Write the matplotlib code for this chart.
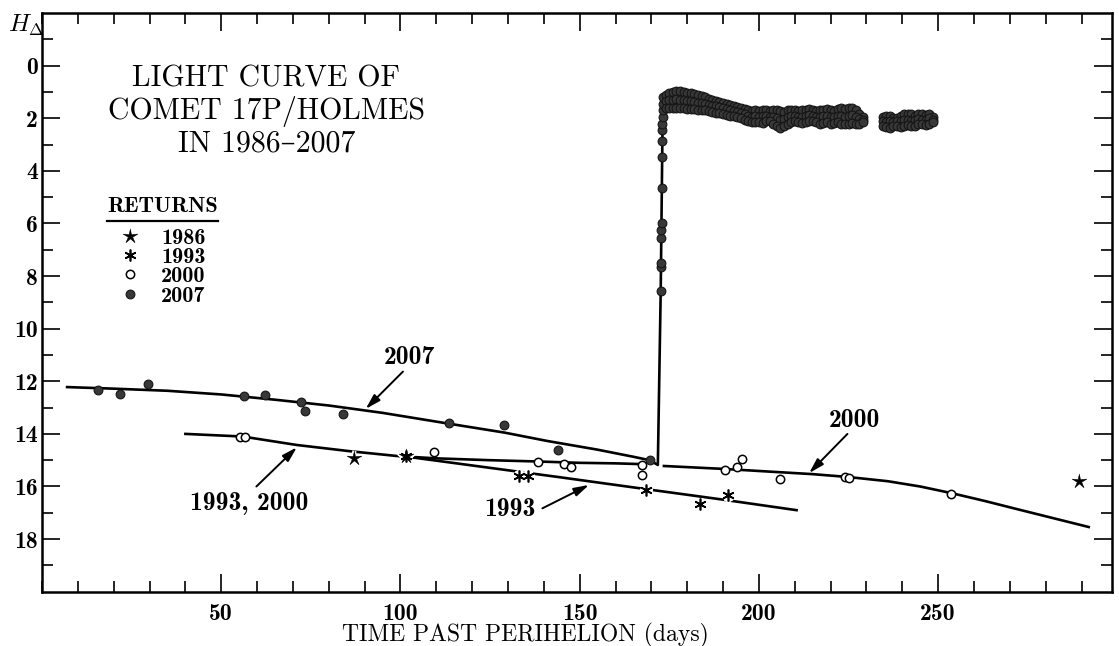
import numpy as np
import matplotlib
matplotlib.use('Agg')
import matplotlib.pyplot as plt
from matplotlib.ticker import MultipleLocator, FixedLocator

# ---- observations (days past perihelion, H_delta) ----
obs1986_day = [86.9, 101.6, 289.2]
obs1986_mag = [14.92, 14.85, 15.80]

obs1993_day = [101.6, 133.0, 135.7, 168.6, 183.5, 191.5]
obs1993_mag = [14.85, 15.60, 15.60, 16.15, 16.66, 16.31]

obs2000_day = [55.2, 56.5, 109.3, 138.5, 145.5, 147.7, 167.5, 167.5, 190.4, 194.0,
               195.2, 205.8, 223.9, 225.0, 253.6]
obs2000_mag = [14.12, 14.12, 14.68, 15.05, 15.15, 15.24, 15.20, 15.56, 15.36, 15.27,
               14.95, 15.72, 15.64, 15.66, 16.30]

obs2007_day = [15.7, 21.7, 29.6, 56.3, 62.3, 72.3, 73.5, 84.1, 113.6, 129.0, 143.9, 169.5]
obs2007_mag = [12.34, 12.47, 12.10, 12.57, 12.51, 12.79, 13.12, 13.25, 13.57, 13.68, 14.60, 15.00]

# 2007 outburst: the rise and the bright plateau
rise_day = [172.6, 172.7, 172.7, 172.8, 172.8, 172.85, 172.95, 173.0, 173.05, 173.1,
            173.1, 173.15, 173.2, 173.25, 173.3]
rise_mag = [8.56, 7.64, 7.51, 6.56, 6.24, 5.97, 4.66, 3.46, 2.86, 2.44,
            2.20, 1.95, 1.70, 1.45, 1.20]

band_day = [174, 175, 176, 177, 178, 179, 180, 181, 182, 183, 184, 185, 186, 187,
            188, 189, 190, 191, 192, 193, 194, 195, 196, 197, 198, 199, 200, 201,
            202, 203, 204, 205, 206, 207, 208, 209, 210, 211, 212, 213, 214, 215,
            216, 217, 218, 219, 220, 221, 222, 223, 224, 225, 226, 227, 228, 229]
band_top = [1.10, 1.05, 1.00, 0.98, 0.97, 1.00, 1.02, 1.05, 1.08, 1.10, 1.15, 1.20, 1.25, 1.30,
            1.33, 1.38, 1.42, 1.45, 1.50, 1.52, 1.56, 1.62, 1.66, 1.70, 1.72, 1.70, 1.72, 1.68,
            1.70, 1.74, 1.70, 1.68, 1.72, 1.75, 1.70, 1.68, 1.70, 1.73, 1.70, 1.68, 1.66, 1.70,
            1.72, 1.70, 1.68, 1.65, 1.68, 1.72, 1.66, 1.62, 1.65, 1.60, 1.62, 1.70, 1.85, 1.95]
band_mid = [1.35, 1.32, 1.30, 1.28, 1.30, 1.30, 1.33, 1.35, 1.38, 1.40, 1.42, 1.45, 1.48, 1.52,
            1.55, 1.58, 1.62, 1.66, 1.70, 1.72, 1.75, 1.80, 1.85, 1.90, 1.95, 1.92, 1.95, 1.92,
            1.90, 1.95, 1.95, 2.00, 2.05, 2.02, 1.95, 1.92, 1.90, 1.95, 1.94, 1.90, 1.88, 1.92,
            1.95, 1.94, 1.92, 1.90, 1.94, 1.95, 1.90, 1.92, 1.94, 1.90, 1.88, 1.95, 2.02, 2.05]
band_bot = [1.60, 1.62, 1.60, 1.60, 1.62, 1.62, 1.65, 1.65, 1.66, 1.68, 1.70, 1.70, 1.72, 1.75,
            1.78, 1.80, 1.85, 1.88, 1.90, 1.92, 1.95, 2.00, 2.05, 2.12, 2.15, 2.15, 2.15, 2.18,
            2.12, 2.10, 2.20, 2.30, 2.36, 2.30, 2.20, 2.15, 2.12, 2.15, 2.18, 2.15, 2.10, 2.12,
            2.15, 2.20, 2.18, 2.15, 2.20, 2.18, 2.15, 2.20, 2.22, 2.20, 2.18, 2.20, 2.20, 2.15]

late_day = [234.5, 235.5, 236.5, 237.5, 238.5, 239.5, 240.5, 241.5, 242.5, 243.5,
            244.5, 245.5, 246.5, 247.5, 248.5]
late_top = [1.95, 1.90, 1.92, 1.98, 2.00, 1.90, 1.85, 1.82, 1.85, 1.90, 1.85, 1.82, 1.88, 1.85, 1.95]
late_mid = [2.10, 2.15, 2.10, 2.15, 2.12, 2.10, 2.08, 2.05, 2.10, 2.05, 2.02, 2.05, 2.05, 2.00, 2.05]
late_bot = [2.30, 2.32, 2.35, 2.30, 2.28, 2.32, 2.30, 2.25, 2.30, 2.28, 2.22, 2.20, 2.25, 2.20, 2.15]

# ---- hand-drawn light curves ----
fit2007_day = [7, 20, 35, 50, 65, 80, 95, 113, 129, 141, 155, 165, 169.5, 171.8, 172.6, 173.1, 173.3]
fit2007_mag = [12.22, 12.28, 12.36, 12.50, 12.70, 12.92, 13.20, 13.60, 13.95, 14.27, 14.60, 14.87,
               15.00, 15.18, 8.6, 2.4, 1.4]
fit9300_day = [40, 56, 71, 86, 99, 102.5]
fit9300_mag = [14.00, 14.10, 14.42, 14.66, 14.84, 14.87]
fit2000a_day = [102.5, 110, 125, 138.5, 150, 160, 167.5]
fit2000a_mag = [14.87, 14.93, 15.00, 15.05, 15.10, 15.12, 15.15]
fit2000b_day = [173.5, 190, 205, 215, 225, 236, 245, 254, 263, 272, 282, 292]
fit2000b_mag = [15.22, 15.33, 15.45, 15.53, 15.64, 15.80, 16.00, 16.26, 16.55, 16.86, 17.20, 17.54]
fit1993_day = [102.5, 120, 143.5, 168.5, 190, 210.5]
fit1993_mag = [14.88, 15.20, 15.63, 16.10, 16.50, 16.90]

year_labels = ['1986', '1993', '2000', '2007']

plt.rcParams['font.family'] = ['cmb10', 'DejaVu Serif']
plt.rcParams['mathtext.fontset'] = 'cm'
roman = ['cmr10', 'DejaVu Serif']

W, H = 1119, 646
AX_L, AX_R, AX_T, AX_B = 42, 1112, 13.1, 591.7
fig = plt.figure(figsize=(W / 100, H / 100), dpi=100)
ax = fig.add_axes([AX_L / W, (H - AX_B) / H, (AX_R - AX_L) / W, (AX_B - AX_T) / H])


def ax_xy(px, py):
    """ pixel position in the reference -> axes fraction """
    return (px - AX_L) / (AX_R - AX_L), (AX_B - py) / (AX_B - AX_T)


# curves
for d, m in [(fit2007_day, fit2007_mag), (fit9300_day, fit9300_mag),
             (fit2000a_day, fit2000a_mag), (fit2000b_day, fit2000b_mag),
             (fit1993_day, fit1993_mag)]:
    ax.plot(d, m, color='k', lw=1.9, zorder=2)

# markers
ang = np.deg2rad(90 + 36 * np.arange(10))
rad = np.tile([1.0, 0.3], 5)
star_verts = np.column_stack([rad * np.cos(ang), rad * np.sin(ang)])

dot = dict(ls='none', marker='o', ms=6.3, mfc='#383838', mec='#151515', mew=0.8, zorder=4)
burst_day = np.concatenate([rise_day, band_day, band_day, band_day, late_day, late_day, late_day])
burst_mag = np.concatenate([rise_mag, band_top, band_mid, band_bot, late_top, late_mid, late_bot])
ax.plot(burst_day, burst_mag, **dot)
h2007, = ax.plot(obs2007_day, obs2007_mag, **dot)

h2000, = ax.plot(obs2000_day, obs2000_mag, ls='none', marker='o', ms=6.0, mfc='white',
                 mec='k', mew=1.1, zorder=4)

ax.plot(obs1993_day, obs1993_mag, ls='none', marker=(6, 2, 0), ms=8.5, mew=4, mec='white', zorder=3)
h1993, = ax.plot(obs1993_day, obs1993_mag, ls='none', marker=(6, 2, 0), ms=8.5, mew=1.2,
                 mec='k', zorder=4)

ax.plot(obs1986_day, obs1986_mag, ls='none', marker=star_verts, ms=11, mfc='white', mec='white',
        mew=3, zorder=3)
h1986, = ax.plot(obs1986_day, obs1986_mag, ls='none', marker=star_verts, ms=11, mfc='k', mec='k',
                 mew=0.4, zorder=4)

# curve labels with arrows
arrow = dict(arrowstyle='-|>,head_length=0.45,head_width=0.13', lw=1.4, color='k',
             shrinkA=0, shrinkB=0, mutation_scale=20)
for txt, tpos, tail, head in [('2007', (102.5, 11.1), (100.7, 11.63), (90.3, 13.05)),
                              ('1993, 2000', (57.9, 16.64), (59.8, 16.0), (71.1, 14.51)),
                              ('1993', (130.4, 16.89), (139.6, 16.83), (152.6, 15.94)),
                              ('2000', (226.6, 13.5), (224.7, 14.0), (214.0, 15.49))]:
    ax.annotate('', xy=head, xytext=tail, arrowprops=arrow)
    ax.text(tpos[0], tpos[1], txt, ha='center', va='center', fontsize=18.5)

# title
ax.text(*ax_xy(266.5, 111), 'LIGHT CURVE OF\nCOMET 17P/HOLMES\nIN 1986\u20132007',
        transform=ax.transAxes, ha='center', va='center', multialignment='center',
        family=roman, fontsize=21.5, linespacing=1.15)

# axes
ax.set_xlim(0, 298.5)
ax.set_ylim(20, -2)
ax.xaxis.set_major_locator(FixedLocator([50, 100, 150, 200, 250]))
ax.xaxis.set_minor_locator(MultipleLocator(10))
ax.yaxis.set_major_locator(FixedLocator(list(range(0, 19, 2))))
ax.yaxis.set_minor_locator(FixedLocator(list(range(-1, 20, 2))))
ax.tick_params(which='both', direction='in', top=True, right=True, width=1.2, colors='k')
ax.tick_params(which='major', length=13, labelsize=17)
ax.tick_params(which='minor', length=8)
ax.tick_params(axis='x', which='major', pad=8)
ax.tick_params(axis='y', which='major', pad=3)
for s in ax.spines.values():
    s.set_linewidth(1.8)

ax.set_xlabel('TIME PAST PERIHELION (days)', family=roman, fontsize=17)
ax.xaxis.set_label_coords(*ax_xy(525, 623))
ax.set_ylabel(r'$H_{\Delta}$', rotation=0, fontsize=18, ha='center', va='center')
ax.yaxis.set_label_coords(*ax_xy(26, 25))

# legend: header, rule and the four returns
ax.text(*ax_xy(162.5, 207), 'RETURNS', transform=ax.transAxes, ha='center', va='center',
        fontsize=16)
ax.plot(*zip(ax_xy(107, 220.5), ax_xy(218, 220.5)), transform=ax.transAxes, color='k',
        lw=1.6, clip_on=False)
ax.legend([h1986, h1993, h2000, h2007], year_labels, loc='upper left',
          bbox_to_anchor=ax_xy(119, 228), frameon=False, fontsize=16, handlelength=1.0,
          handletextpad=0.9, labelspacing=-0.01, borderpad=0, borderaxespad=0, numpoints=1)

fig.savefig('out.png', dpi=100)
